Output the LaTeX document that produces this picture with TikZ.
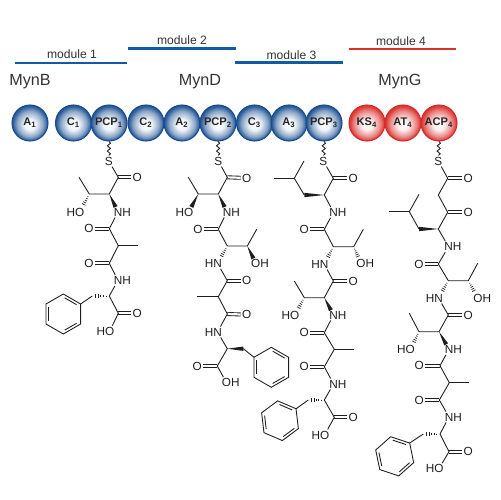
\documentclass[tikz,border=0pt]{standalone}
\usepackage{fontspec}
\setmainfont{Liberation Sans}
\usetikzlibrary{calc,decorations.pathmorphing}
\definecolor{SphereBlue}{HTML}{2A5C9A}
\definecolor{RimBlue}{HTML}{1A4A8A}
\definecolor{SphereRed}{HTML}{DC3A36}
\definecolor{RimRed}{HTML}{D42A2A}
\definecolor{ModuleBlue}{HTML}{0F5CA6}
\definecolor{ModuleRed}{HTML}{D9302C}
\definecolor{BondGray}{HTML}{1E1E1E}
\pgfdeclareradialshading{bluesphere}{\pgfpoint{0bp}{-3bp}}{color(0bp)=(white); color(8bp)=(white!92!SphereBlue); color(18bp)=(SphereBlue!55!white); color(24bp)=(SphereBlue); color(30bp)=(RimBlue)}
\pgfdeclareradialshading{redsphere}{\pgfpoint{0bp}{-3bp}}{color(0bp)=(white); color(8bp)=(white!90!SphereRed); color(18bp)=(SphereRed!60!white); color(24bp)=(SphereRed); color(30bp)=(RimRed)}
\tikzset{
  sphere/.style={circle, minimum size=0.72cm, inner sep=0pt, line width=0.6pt,
    font=\fontsize{6.3pt}{7pt}\selectfont\bfseries, text=black!85},
  bluesphere/.style={sphere, draw=RimBlue, shading=bluesphere},
  redsphere/.style={sphere, draw=RimRed, shading=redsphere},
  modulebar/.style={line width=1.2pt},
  modulelabel/.style={font=\fontsize{6.9pt}{8pt}\selectfont, text=black!80},
  synthase/.style={font=\fontsize{9.2pt}{10pt}\selectfont, text=black!80},
  atom/.style={inner sep=0.6pt, font=\fontsize{6.7pt}{8pt}\selectfont, text=BondGray},
  bond/.style={draw=BondGray, line width=0.5pt},
  dblbond/.style={bond, double, double distance=1.25pt},
  tether/.style={bond, decorate, decoration={snake, amplitude=0.9pt, segment length=3pt}},
  pics/phenyl/.style={code={
    \foreach \i in {1,...,6} {\coordinate (-v\i) at ({-#1-30-60*(\i-1)}:20);}
    \draw[bond] (-v1) -- (-v2) -- (-v3) -- (-v4) -- (-v5) -- (-v6) -- cycle;
    \foreach \i in {1,3,5} {\draw[bond] ({-#1-35-60*(\i-1)}:16.2) -- ({-#1-85-60*(\i-1)}:16.2);}
  }}
}
\newcommand{\wedgebond}[3][0.72]{\fill[BondGray] (#2) -- ($(#2)!#1!(#3)!1.25pt!90:(#2)$) -- ($(#2)!#1!(#3)!1.25pt!-90:(#2)$) -- cycle;}
\newcommand{\hashbond}[3][0.72]{\foreach \t in {0.2,0.35,...,0.95} {\draw[BondGray, line width=0.4pt] ($(#2)!\t*#1!(#3)!\t*1.4pt!90:(#2)$) -- ($(#2)!\t*#1!(#3)!\t*1.4pt!-90:(#2)$);}}
\begin{document}
\begin{tikzpicture}[x=0.02cm,y=-0.02cm]
  \useasboundingbox (0,0) rectangle (500,500);
  % modules
  \coordinate (mod1a) at (15,63);    \coordinate (mod1b) at (127,63);
  \coordinate (mod2a) at (128,48.5); \coordinate (mod2b) at (236,48.5);
  \coordinate (mod3a) at (235,62.5); \coordinate (mod3b) at (343,62.5);
  \coordinate (mod4a) at (348.5,49); \coordinate (mod4b) at (456,49);
  \draw[modulebar, ModuleBlue] (mod1a) -- (mod1b);
  \draw[modulebar, ModuleBlue] (mod2a) -- (mod2b);
  \draw[modulebar, ModuleBlue] (mod3a) -- (mod3b);
  \draw[modulebar, ModuleRed] (mod4a) -- (mod4b);
  \node[modulelabel] (mod1) at (72,54.5) {module 1};
  \node[modulelabel] (mod2) at (182,40) {module 2};
  \node[modulelabel] (mod3) at (291.5,55) {module 3};
  \node[modulelabel] (mod4) at (401,41) {module 4};
  \node[synthase] (mynb) at (30,82) {MynB};
  \node[synthase] (mynd) at (200,82) {MynD};
  \node[synthase] (myng) at (400,82) {MynG};
  % domains
  \foreach \n/\x/\t in {A1/30/A\textsubscript{1}, C1/73.5/C\textsubscript{1}, PCP1/109/PCP\textsubscript{1},
    C2/146/C\textsubscript{2}, A2/182/A\textsubscript{2}, PCP2/218/PCP\textsubscript{2},
    C3/254.5/C\textsubscript{3}, A3/289/A\textsubscript{3}, PCP3/324/PCP\textsubscript{3}} {
    \node[bluesphere] (\n) at (\x,123) {\t};
  }
  \foreach \n/\x/\t in {KS4/367/KS\textsubscript{4}, AT4/403/AT\textsubscript{4}, ACP4/439/ACP\textsubscript{4}} {
    \node[redsphere] (\n) at (\x,123) {\t};
  }

  % chain on PCP1
  \foreach \n/\x/\y in {p1c/118.3/177.3, p1a/109.3/194, p1b/89.3/194, p1me/79/177.3, p1d/109.3/228.7,
    p1e/118.3/245.7, p1em/138.3/245.7, p1f/109.3/263.3, p1g/109.3/296, p1h/92.3/296, p1k/118.3/313.3} {
    \coordinate (\n) at (\x,\y);
  }
  \foreach \n/\x/\y/\t in {p1s/108.7/161/S, p1o1/137.3/177.3/O, p1ho/79.6/212/\llap{H}O, p1n1/118/212/N\rlap{H},
    p1o2/89/228.7/O, p1o3/89/263.3/O, p1n2/118/280.3/N\rlap{H}, p1o4/137.3/313.3/O, p1oh/109.6/331.3/\llap{H}O} {
    \node[atom] (\n) at (\x,\y) {\t};
  }
  \pic (p1ph) at (63.3,314) {phenyl=0};
  \draw[tether] (PCP1.south) -- (p1s);
  \draw[dblbond] (p1c) -- (p1o1);
  \draw[dblbond] (p1d) -- (p1o2);
  \draw[dblbond] (p1f) -- (p1o3);
  \draw[dblbond] (p1k) -- (p1o4);
  \draw[bond] (p1s) -- (p1c) -- (p1a) -- (p1b) -- (p1me);
  \draw[bond] (p1n1) -- (p1d) -- (p1e) -- (p1f) -- (p1n2) -- (p1g) -- (p1k) -- (p1oh);
  \draw[bond] (p1e) -- (p1em);
  \draw[bond] (p1h) -- (p1ph-v1);
  \wedgebond{p1a}{p1n1}
  \hashbond{p1b}{p1ho}
  \hashbond[1]{p1g}{p1h}

  % chain on PCP2
  \foreach \n/\x/\y in {p2c/227.3/177.3, p2a/218.3/194, p2b/198.3/194, p2me/188.3/177.3, p2d/218.3/229.3,
    p2e/227.3/246, p2f/247.3/246, p2fm/256.7/229.3, p2g/227.3/280.7, p2h/218.3/296.7, p2hm/197.3/296.7,
    p2k/227.3/314, p2l/227.3/348.7, p2q/243.3/348.7, p2r/217.3/366} {
    \coordinate (\n) at (\x,\y);
  }
  \foreach \n/\x/\y/\t in {p2s/218.3/161/S, p2o1/246.7/178/O, p2ho/188.6/212/\llap{H}O, p2n1/227/212/N\rlap{H},
    p2o2/198/229.3/O, p2n2/217.5/263.3/\llap{H}N, p2oh2/255.8/263.3/O\rlap{H}, p2o3/246.7/280.7/O,
    p2o4/246.7/314.7/O, p2n3/217.5/332/\llap{H}N, p2o5/197.3/366/O, p2oh/226.5/382.7/O\rlap{H}} {
    \node[atom] (\n) at (\x,\y) {\t};
  }
  \pic (p2ph) at (271.3,367.3) {phenyl=0};
  \draw[tether] (PCP2.south) -- (p2s);
  \draw[dblbond] (p2c) -- (p2o1);
  \draw[dblbond] (p2d) -- (p2o2);
  \draw[dblbond] (p2g) -- (p2o3);
  \draw[dblbond] (p2k) -- (p2o4);
  \draw[dblbond] (p2r) -- (p2o5);
  \draw[bond] (p2s) -- (p2c) -- (p2a) -- (p2b) -- (p2me);
  \draw[bond] (p2n1) -- (p2d) -- (p2e) -- (p2f) -- (p2fm);
  \draw[bond] (p2n2) -- (p2g) -- (p2h) -- (p2k) -- (p2n3) -- (p2l) -- (p2r) -- (p2oh);
  \draw[bond] (p2h) -- (p2hm);
  \draw[bond] (p2q) -- (p2ph-v3);
  \wedgebond{p2a}{p2n1}
  \wedgebond{p2b}{p2ho}
  \wedgebond{p2f}{p2oh2}
  \wedgebond[1]{p2l}{p2q}
  \hashbond{p2e}{p2n2}

  % chain on PCP3
  \foreach \n/\x/\y in {p3c/333.3/178.3, p3a/324.3/195, p3b/304.3/195, p3i/294.3/178.3, p3im/304/161, p3in/274.3/178.3,
    p3d/324.3/229.3, p3e/333.3/246.7, p3f/353.7/246.7, p3fm/363.3/229.3, p3g/333.3/281, p3h/324.3/297.7,
    p3j/304.3/297.7, p3jm/294.3/281, p3k/324.3/332.7, p3l/334.3/349.3, p3lm/354.3/349.3, p3m/324.3/366.7,
    p3q/324.3/400, p3r/308.3/400, p3t/334.3/417.3} {
    \coordinate (\n) at (\x,\y);
  }
  \foreach \n/\x/\y/\t in {p3s/323.3/161/S, p3o1/353.3/178.3/O, p3n1/333.5/212.3/N\rlap{H}, p3o2/304.3/229.3/O,
    p3oh1/361/263.5/O\rlap{H}, p3n2/324.2/264/\llap{H}N, p3o3/353.3/281/O, p3ho/294.6/315/\llap{H}O, p3n3/333.5/315/N\rlap{H},
    p3o4/304.3/332.7/O, p3o5/304.3/366.7/O, p3n4/333.5/384/N\rlap{H}, p3o6/353.3/417.3/O, p3oh2/324.6/435/\llap{H}O} {
    \node[atom] (\n) at (\x,\y) {\t};
  }
  \pic (p3ph) at (280,420.7) {phenyl=6.7};
  \draw[tether] (PCP3.south) -- (p3s);
  \draw[dblbond] (p3c) -- (p3o1);
  \draw[dblbond] (p3d) -- (p3o2);
  \draw[dblbond] (p3g) -- (p3o3);
  \draw[dblbond] (p3k) -- (p3o4);
  \draw[dblbond] (p3m) -- (p3o5);
  \draw[dblbond] (p3t) -- (p3o6);
  \draw[bond] (p3s) -- (p3c) -- (p3a) -- (p3n1) -- (p3d) -- (p3e) -- (p3f) -- (p3fm);
  \draw[bond] (p3b) -- (p3i) -- (p3im);
  \draw[bond] (p3i) -- (p3in);
  \draw[bond] (p3n2) -- (p3g) -- (p3h) -- (p3j) -- (p3jm);
  \draw[bond] (p3n3) -- (p3k) -- (p3l) -- (p3m) -- (p3n4) -- (p3q) -- (p3t) -- (p3oh2);
  \draw[bond] (p3l) -- (p3lm);
  \draw[bond] (p3r) -- (p3ph-v1);
  \wedgebond[1]{p3a}{p3b}
  \wedgebond{p3h}{p3n3}
  \hashbond{p3e}{p3n2}
  \hashbond{p3f}{p3oh1}
  \hashbond{p3j}{p3ho}
  \hashbond[1]{p3q}{p3r}

  % chain on ACP4
  \foreach \n/\x/\y in {p4c/447.7/178.3, p4a/438.3/195, p4b/447.7/212.3, p4d/438.3/229, p4e/419/229, p4i/409.3/211.7,
    p4im/419/194.3, p4in/389.3/211.7, p4f/438.3/264, p4g/448.3/280.7, p4h/468.3/280.7, p4hm/477.7/263.3,
    p4j/448.3/315, p4k/439/331.7, p4l/419/331.7, p4lm/409.3/313.3, p4m/440/365.7, p4q/449.3/382.7, p4qm/469/382.7,
    p4r/439.3/400, p4t/440/434, p4u/423.3/434, p4v/449/451.7} {
    \coordinate (\n) at (\x,\y);
  }
  \foreach \n/\x/\y/\t in {p4s/438.3/161/S, p4o1/468.3/178.3/O, p4o2/468.3/212.3/O, p4n1/448.5/246.7/N\rlap{H},
    p4o3/419/264/O, p4oh1/478/298/O\rlap{H}, p4n2/438.5/298/\llap{H}N, p4o4/468.3/315/O, p4ho/410.3/349.3/\llap{H}O,
    p4n3/449/349.3/N\rlap{H}, p4o5/419.3/365.7/O, p4o6/419.3/400/O, p4n4/449/417/N\rlap{H}, p4o7/468.3/451.7/O,
    p4oh2/438.9/468.7/\llap{H}O} {
    \node[atom] (\n) at (\x,\y) {\t};
  }
  \pic (p4ph) at (394.7,456.3) {phenyl=11.6};
  \draw[tether] (ACP4.south) -- (p4s);
  \draw[dblbond] (p4c) -- (p4o1);
  \draw[dblbond] (p4b) -- (p4o2);
  \draw[dblbond] (p4f) -- (p4o3);
  \draw[dblbond] (p4j) -- (p4o4);
  \draw[dblbond] (p4m) -- (p4o5);
  \draw[dblbond] (p4r) -- (p4o6);
  \draw[dblbond] (p4v) -- (p4o7);
  \draw[bond] (p4s) -- (p4c) -- (p4a) -- (p4b) -- (p4d) -- (p4n1) -- (p4f) -- (p4g) -- (p4h) -- (p4hm);
  \draw[bond] (p4e) -- (p4i) -- (p4im);
  \draw[bond] (p4i) -- (p4in);
  \draw[bond] (p4n2) -- (p4j) -- (p4k) -- (p4l) -- (p4lm);
  \draw[bond] (p4n3) -- (p4m) -- (p4q) -- (p4r) -- (p4n4) -- (p4t) -- (p4v) -- (p4oh2);
  \draw[bond] (p4q) -- (p4qm);
  \draw[bond] (p4u) -- (p4ph-v1);
  \wedgebond[1]{p4d}{p4e}
  \wedgebond{p4k}{p4n3}
  \hashbond{p4g}{p4n2}
  \hashbond{p4h}{p4oh1}
  \hashbond{p4l}{p4ho}
  \hashbond[1]{p4t}{p4u}
\end{tikzpicture}
\end{document}
